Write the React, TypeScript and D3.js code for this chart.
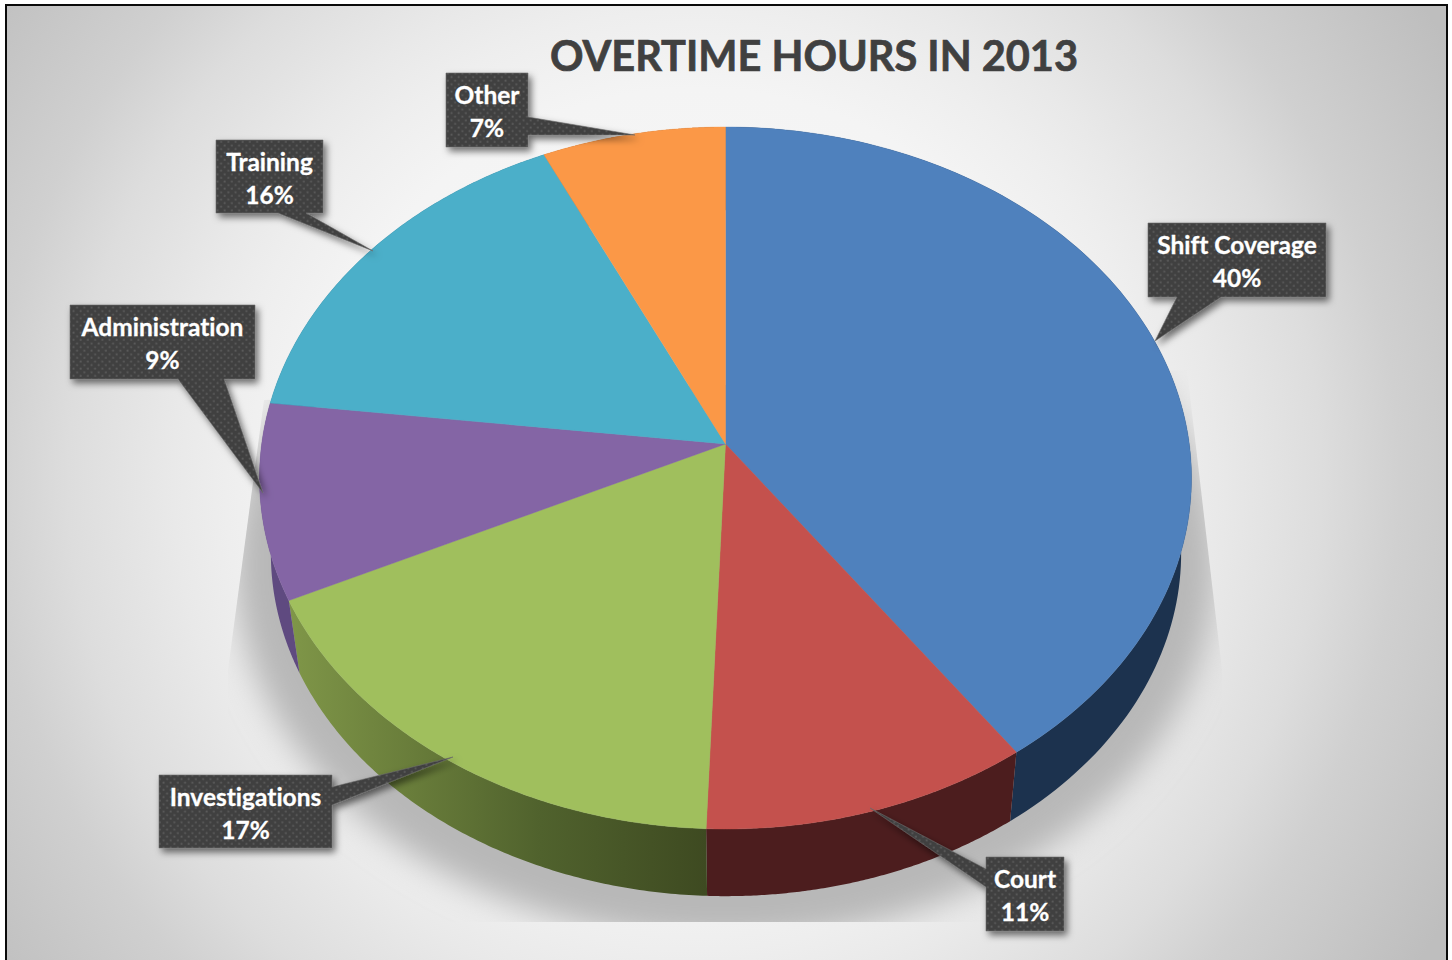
import React from "react";
import * as d3 from "d3";

const categories = ["Shift Coverage", "Court", "Investigations", "Administration", "Training", "Other"];
const values = [40.2, 10.4, 17.3, 9.0, 16.1, 7.0];
const percentLabels = ["40%", "11%", "17%", "9%", "16%", "7%"];
const topColors = ["#4f81bd", "#c4514d", "#a0bf5d", "#8465a5", "#4bafc9", "#fb9847"];
const wallFills = ["#1c324e", "#4c1d1e", "url(#greenWall)", "#5f4a80", "#2d6a7c", "#a55a20"];
const titleText = "OVERTIME HOURS IN 2013";

// perspective model of the disc
const P = 0.0969;
const top = { cx: 725.5, cy: 444, a: 463.8, b: 347.7 };
const bottom = { cx: 726, cy: 520, a: 453, b: 339.7 };

type Face = typeof top;
const project = (f: Face, ang: number): [number, number] => {
  const u = Math.sin(ang);
  const v = Math.cos(ang);
  const w = 1 + P * v;
  return [f.cx + (f.a * u) / w, f.cy - (f.b * v) / w];
};

const arcs = d3.pie<number>().sort(null).value((d) => d)(values);
const toClosed = d3.line().curve(d3.curveLinearClosed);

const rimPts = (f: Face, s: number, e: number) =>
  d3.range(0, 121).map((i) => project(f, s + ((e - s) * i) / 120));

const topPath = (s: number, e: number) =>
  toClosed([[top.cx, top.cy] as [number, number], ...rimPts(top, s, e)])!;
const wallPath = (s: number, e: number) =>
  toClosed([...rimPts(top, s, e), ...rimPts(bottom, s, e).reverse()])!;

// callout boxes: [x0, y0, x1, y1], pointer base points and tip
const callouts = [
  { box: [1148, 223, 1326, 297], side: "bottom", base: [1177, 1221], tip: [1155, 341] },
  { box: [986, 857, 1064, 931], side: "left", base: [869, 887], tip: [870, 808] },
  { box: [159, 775, 332, 848], side: "right", base: [787, 805], tip: [453, 757] },
  { box: [70, 305, 255, 379], side: "bottom", base: [178, 224], tip: [263, 493] },
  { box: [216, 140, 323, 213], side: "bottom", base: [278, 306], tip: [373, 251] },
  { box: [446, 73, 528, 147], side: "right", base: [117, 135], tip: [635, 135] },
];

const calloutPath = (c: (typeof callouts)[number]) => {
  const [x0, y0, x1, y1] = c.box;
  const [b0, b1] = c.base;
  const t = c.tip as [number, number];
  let pts: [number, number][];
  if (c.side === "bottom") {
    pts = [[x0, y0], [x1, y0], [x1, y1], [b1, y1], t, [b0, y1], [x0, y1]];
  } else if (c.side === "right") {
    pts = [[x0, y0], [x1, y0], [x1, b0], t, [x1, b1], [x1, y1], [x0, y1]];
  } else {
    pts = [[x0, y0], [x1, y0], [x1, y1], [x0, y1], [x0, b1], t, [x0, b0]];
  }
  return toClosed(pts)!;
};

const FONT = "Lato, 'Open Sans', sans-serif";
const textStyle = { fontVariantLigatures: "none" } as React.CSSProperties;

export default function App() {
  return (
    <svg
      width={1452}
      height={960}
      viewBox="0 0 1452 960"
      style={{ position: "fixed", left: 0, top: 0, display: "block", background: "#fff" }}
    >
      <defs>
        <radialGradient id="bg" gradientUnits="userSpaceOnUse" cx={695} cy={480} r={870}>
          <stop offset="0" stopColor="#f9f9f9" />
          <stop offset="0.45" stopColor="#f4f4f4" />
          <stop offset="0.54" stopColor="#eeeeee" />
          <stop offset="0.6" stopColor="#e9e9e9" />
          <stop offset="0.66" stopColor="#e3e3e3" />
          <stop offset="0.72" stopColor="#dddddd" />
          <stop offset="0.81" stopColor="#d0d0d0" />
          <stop offset="1" stopColor="#bebebe" />
        </radialGradient>
        <linearGradient id="greenWall" gradientUnits="userSpaceOnUse" x1={290} y1={0} x2={707} y2={0}>
          <stop offset="0" stopColor="#7f9648" />
          <stop offset="0.3" stopColor="#687c3a" />
          <stop offset="0.6" stopColor="#50622d" />
          <stop offset="1" stopColor="#3e4a21" />
        </linearGradient>
        <filter id="pieShadowBlur" x="-10%" y="-10%" width="120%" height="120%">
          <feGaussianBlur stdDeviation="16" />
        </filter>
        <filter id="calloutShadow" x="-30%" y="-30%" width="170%" height="170%">
          <feDropShadow dx="3" dy="4" stdDeviation="3.5" floodColor="#000" floodOpacity="0.55" />
        </filter>
        <clipPath id="shadowClip">
          <path d="M264,400 L228,670 L228,922 L1222,922 L1222,670 L1187,370 Z" />
        </clipPath>
        <pattern id="dots" patternUnits="userSpaceOnUse" width={7.2} height={7.2}>
          <rect width={7.2} height={7.2} fill="#404040" />
          <rect x={0.6} y={0.6} width={1.8} height={1.8} fill="#5c5c5c" />
          <rect x={4.2} y={4.2} width={1.8} height={1.8} fill="#5c5c5c" />
        </pattern>
      </defs>

      <rect x={5} y={4} width={1443} height={956} fill="#0a0a0a" />
      <rect x={7} y={6} width={1439} height={954} fill="url(#bg)" />

      <g clipPath="url(#shadowClip)">
        <ellipse cx={725} cy={565} rx={491} ry={376} fill="#b8b8b8" filter="url(#pieShadowBlur)" />
      </g>

      <g>
        {arcs.map((a, i) => (
          <path key={categories[i]} d={wallPath(a.startAngle, a.endAngle)} fill={wallFills[i]} />
        ))}
      </g>
      <g>
        {arcs.map((a, i) => (
          <path key={categories[i]} d={topPath(a.startAngle, a.endAngle)} fill={topColors[i]} stroke={topColors[i]} strokeWidth={0.4} />
        ))}
      </g>

      <text
        x={814}
        y={71}
        textAnchor="middle"
        fontFamily={FONT}
        fontWeight={700}
        fontSize={41.5}
        fill="#404040"
        stroke="#404040"
        strokeWidth={0.7}
        style={textStyle}
      >
        {titleText}
      </text>

      {callouts.map((c, i) => {
        const mid = (c.box[0] + c.box[2]) / 2;
        return (
          <g key={categories[i]}>
            <path
              d={calloutPath(c)}
              fill="url(#dots)"
              stroke="#6c6c6c"
              strokeWidth={0.6}
              filter="url(#calloutShadow)"
            />
            <text
              x={mid}
              y={c.box[1] + 31}
              textAnchor="middle"
              fontFamily={FONT}
              fontWeight={700}
              fontSize={24.5}
              fill="#fff"
              stroke="#fff"
              strokeWidth={0.3}
              style={textStyle}
            >
              {categories[i]}
            </text>
            <text
              x={mid}
              y={c.box[1] + 64}
              textAnchor="middle"
              fontFamily={FONT}
              fontWeight={700}
              fontSize={24.5}
              fill="#fff"
              stroke="#fff"
              strokeWidth={0.3}
              style={textStyle}
            >
              {percentLabels[i]}
            </text>
          </g>
        );
      })}
    </svg>
  );
}
